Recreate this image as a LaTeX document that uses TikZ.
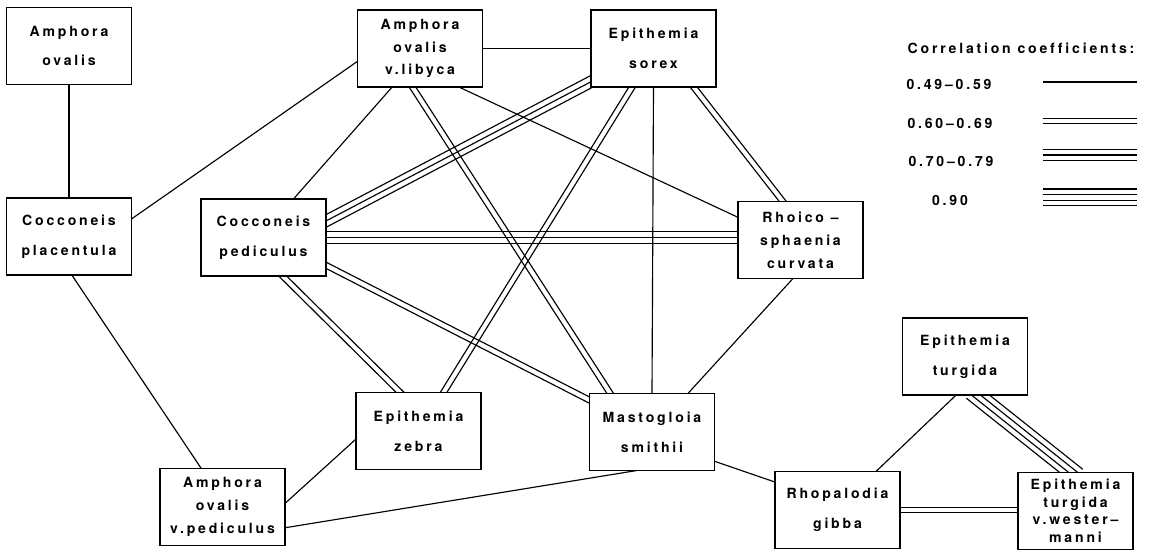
\documentclass[tikz,border=0pt]{standalone}
\usepackage{fontspec}
\newfontfamily\labfont{TeX Gyre Heros}[LetterSpace=20, Ligatures=NoCommon]
\usetikzlibrary{calc,backgrounds}

% n parallel lines between two anchors
\newcommand{\corr}[3]{%
  \foreach \lnidx in {1,...,#1}{%
    \pgfmathsetmacro{\lnoff}{(\lnidx-(#1+1)/2)*3.2}
    \draw[link] ($(#2)!\lnoff pt!90:(#3)$) -- ($(#3)!\lnoff pt!-90:(#2)$);
  }}

\begin{document}
\begin{tikzpicture}[x=0.02cm, y=-0.02cm,
    taxon/.style={draw, line width=1.1pt, fill=white, inner sep=0pt, minimum width=2.5cm, minimum height=1.54cm, align=center, font=\labfont\bfseries\fontsize{8}{17}\selectfont},
    three/.style={font=\labfont\bfseries\fontsize{8}{13}\selectfont},
    four/.style={font=\labfont\bfseries\fontsize{8}{10}\selectfont},
    key/.style={font=\labfont\bfseries\fontsize{8}{9}\selectfont},
    link/.style={line width=0.65pt, shorten <=-4pt, shorten >=-4pt}]
    \useasboundingbox (0,0) rectangle (1150,553);

    % taxa
    \node[taxon] (aov) at (69,46) {Amphora\\ovalis};
    \node[taxon, three] (libyca) at (420,48.5) {Amphora\\ovalis\\v.libyca};
    \node[taxon] (sorex) at (653.5,48.5) {Epithemia\\sorex};
    \node[taxon] (cpla) at (69,236.5) {Cocconeis\\placentula};
    \node[taxon] (cped) at (263.5,237.5) {Cocconeis\\pediculus};
    \node[taxon, three] (rhoi) at (800.5,240) {Rhoico –\\sphaenia\\curvata};
    \node[taxon] (zebra) at (418.5,431) {Epithemia\\zebra};
    \node[taxon] (masto) at (652,432) {Mastogloia\\smithii};
    \node[taxon, three] (vped) at (222.5,507) {Amphora\\ovalis\\v.pediculus};
    \node[taxon] (turgida) at (965,356.5) {Epithemia\\turgida};
    \node[taxon] (gibba) at (837.5,510) {Rhopalodia\\gibba};
    \node[taxon, four, minimum width=2.3cm] (wester) at (1075.5,511) {Epithemia\\turgida\\v.wester–\\manni};

    % correlations
    \begin{pgfonlayer}{background}
    \corr{1}{aov.south}{cpla.north}
    \corr{1}{cpla.16}{libyca.192}
    \corr{1}{cpla.275}{vped.119}
    \corr{1}{libyca.east}{sorex.west}
    \corr{1}{libyca.234}{cped.52}
    \corr{2}{libyca.260}{masto.137}
    \corr{1}{libyca.316}{rhoi.160}
    \corr{3}{sorex.208}{cped.15}
    \corr{3}{cped.east}{cped.east -| rhoi.west}
    \corr{2}{sorex.241}{zebra.57}
    \corr{1}{sorex.south}{masto.north}
    \corr{2}{sorex.316}{rhoi.115}
    \corr{2}{cped.297}{zebra.116}
    \corr{2}{cped.336}{masto.153}
    \corr{1}{rhoi.258}{masto.47}
    \corr{1}{masto.335}{gibba.156}
    \corr{1}{masto.242}{vped.342}
    \corr{1}{zebra.188}{vped.4}
    \corr{1}{turgida.256}{gibba.45}
    \corr{4}{turgida.287}{wester.95}
    \corr{2}{gibba.east}{gibba.east -| wester.west}
    \end{pgfonlayer}

    % legend
    \node[key] (title) at (1021,48) {Correlation coefficients:};
    \node[key] (k1) at (949,84) {0.49–0.59};
    \node[key] (k2) at (950,123) {0.60–0.69};
    \node[key] (k3) at (951,161) {0.70–0.79};
    \node[key] (k4) at (950,200) {0.90};
    \coordinate (s1a) at (1043,82);   \coordinate (s1b) at (1137,82);
    \coordinate (s2a) at (1043,121);  \coordinate (s2b) at (1137,121);
    \coordinate (s3a) at (1043,155);  \coordinate (s3b) at (1137,155);
    \coordinate (s4a) at (1043,197.5);\coordinate (s4b) at (1137,197.5);
    \begin{scope}[link/.append style={shorten <=0pt, shorten >=0pt}]
    \corr{1}{s1a}{s1b}
    \corr{2}{s2a}{s2b}
    \corr{3}{s3a}{s3b}
    \corr{4}{s4a}{s4b}
    \end{scope}
\end{tikzpicture}
\end{document}
